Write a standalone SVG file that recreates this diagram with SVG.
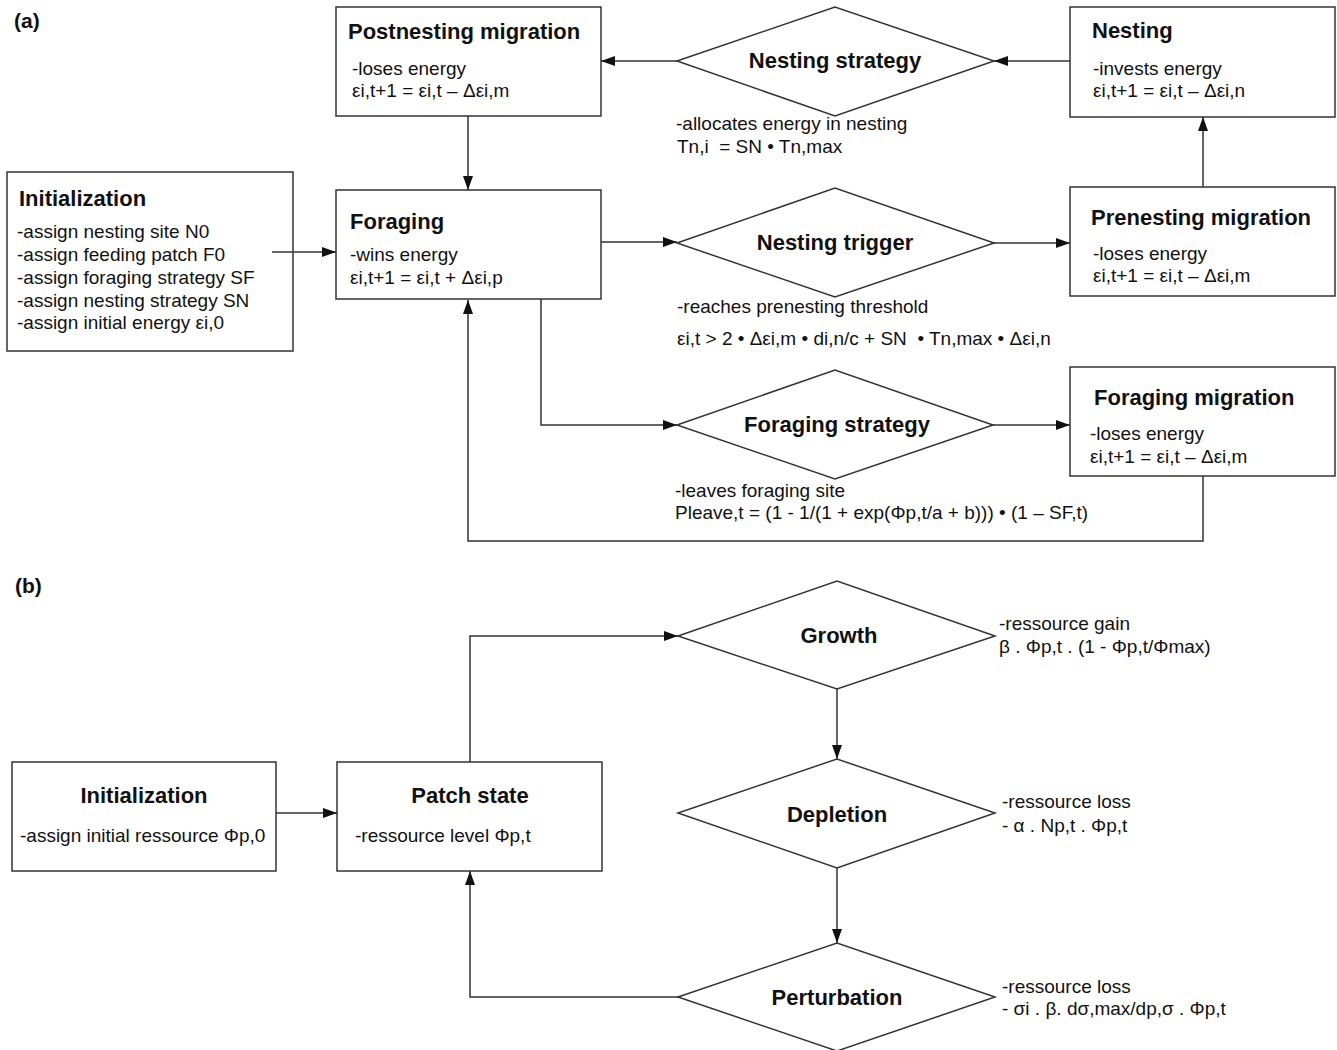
<svg xmlns="http://www.w3.org/2000/svg" width="1337" height="1050" viewBox="0 0 1337 1050">
<style>
.box{fill:#fff;stroke:#333;stroke-width:1.5}
.dia{fill:#fff;stroke:#333;stroke-width:1.5}
.t{font-family:"Liberation Sans",Arial,sans-serif;font-size:22px;font-weight:bold;fill:#111}
.b{font-family:"Liberation Sans",Arial,sans-serif;font-size:19px;fill:#111}
.m{text-anchor:middle}
.c{fill:none;stroke:#333;stroke-width:1.5}
</style>
<defs>
<marker id="ah" markerUnits="userSpaceOnUse" markerWidth="14" markerHeight="10" refX="14" refY="5" orient="auto">
<path d="M0,0 L14,5 L0,10 z" fill="#111"/>
</marker>
</defs>
<rect width="1337" height="1050" fill="#fff"/>
<text class="t" x="14" y="28" style="font-size:21px">(a)</text>
<text class="t" x="15" y="593" style="font-size:21px">(b)</text>

<g id="postnesting">
<rect class="box" x="336" y="7" width="265" height="109"/>
<text class="t" x="348" y="39">Postnesting migration</text>
<text class="b" x="352" y="75">-loses energy</text>
<text class="b" x="352" y="97">εi,t+1 = εi,t – Δεi,m</text>
</g>

<g id="nesting-strategy">
<polygon class="dia" points="677,61 835,7 994,61 835,116"/>
<text class="t m" x="835" y="68">Nesting strategy</text>
<text class="b" x="676" y="130">-allocates energy in nesting</text>
<text class="b" x="677" y="153" xml:space="preserve">Tn,i  = SN • Tn,max</text>
</g>

<g id="nesting">
<rect class="box" x="1070" y="7" width="265" height="110"/>
<text class="t" x="1092" y="38">Nesting</text>
<text class="b" x="1093" y="75">-invests energy</text>
<text class="b" x="1093" y="97">εi,t+1 = εi,t – Δεi,n</text>
</g>

<g id="initialization-a">
<rect class="box" x="7" y="172" width="286" height="179"/>
<text class="t" x="19" y="206">Initialization</text>
<text class="b" x="17" y="238">-assign nesting site N0</text>
<text class="b" x="17" y="261">-assign feeding patch F0</text>
<text class="b" x="17" y="284">-assign foraging strategy SF</text>
<text class="b" x="17" y="307">-assign nesting strategy SN</text>
<text class="b" x="17" y="329">-assign initial energy εi,0</text>
</g>

<g id="foraging">
<rect class="box" x="336" y="190" width="265" height="109"/>
<text class="t" x="350" y="229">Foraging</text>
<text class="b" x="350" y="261">-wins energy</text>
<text class="b" x="350" y="284">εi,t+1 = εi,t + Δεi,p</text>
</g>

<g id="nesting-trigger">
<polygon class="dia" points="677,243 835,188 994,243 835,297"/>
<text class="t m" x="835" y="250">Nesting trigger</text>
<text class="b" x="677" y="313">-reaches prenesting threshold</text>
<text class="b" x="677" y="345" xml:space="preserve">εi,t &gt; 2 • Δεi,m • di,n/c + SN  • Tn,max • Δεi,n</text>
</g>

<g id="prenesting">
<rect class="box" x="1070" y="187" width="265" height="109"/>
<text class="t" x="1091" y="225">Prenesting migration</text>
<text class="b" x="1093" y="260">-loses energy</text>
<text class="b" x="1093" y="282">εi,t+1 = εi,t – Δεi,m</text>
</g>

<g id="foraging-strategy">
<polygon class="dia" points="677,425 835,370 993,425 835,479"/>
<text class="t m" x="837" y="432">Foraging strategy</text>
<text class="b" x="675" y="497">-leaves foraging site</text>
<text class="b" x="675" y="519">Pleave,t = (1 - 1/(1 + exp(Φp,t/a + b))) • (1 – SF,t)</text>
</g>

<g id="foraging-migration">
<rect class="box" x="1070" y="367" width="265" height="109"/>
<text class="t" x="1094" y="405">Foraging migration</text>
<text class="b" x="1090" y="440">-loses energy</text>
<text class="b" x="1090" y="463">εi,t+1 = εi,t – Δεi,m</text>
</g>

<g id="initialization-b">
<rect class="box" x="12" y="762" width="264" height="109"/>
<text class="t m" x="144" y="803">Initialization</text>
<text class="b" x="20" y="842">-assign initial ressource Φp,0</text>
</g>

<g id="patch-state">
<rect class="box" x="337" y="762" width="265" height="109"/>
<text class="t m" x="470" y="803">Patch state</text>
<text class="b" x="355" y="842">-ressource level Φp,t</text>
</g>

<g id="growth">
<polygon class="dia" points="678,636 837,581 995,636 837,689"/>
<text class="t m" x="839" y="643">Growth</text>
<text class="b" x="999" y="630">-ressource gain</text>
<text class="b" x="999" y="653">β . Φp,t . (1 - Φp,t/Φmax)</text>
</g>

<g id="depletion">
<polygon class="dia" points="678,813 837,759 995,813 837,868"/>
<text class="t m" x="837" y="822">Depletion</text>
<text class="b" x="1002" y="808">-ressource loss</text>
<text class="b" x="1002" y="832">- α . Np,t . Φp,t</text>
</g>

<g id="perturbation">
<polygon class="dia" points="678,997 837,943 995,997 837,1051"/>
<text class="t m" x="837" y="1005">Perturbation</text>
<text class="b" x="1002" y="993">-ressource loss</text>
<text class="b" x="1002" y="1015">- σi . β. dσ,max/dp,σ . Φp,t</text>
</g>

<g id="connectors">
<path class="c" d="M272,252 H336" marker-end="url(#ah)"/>
<path class="c" d="M468,116 V190" marker-end="url(#ah)"/>
<path class="c" d="M1070,61 H994" marker-end="url(#ah)"/>
<path class="c" d="M677,61 H601" marker-end="url(#ah)"/>
<path class="c" d="M601,242 H677" marker-end="url(#ah)"/>
<path class="c" d="M994,243 H1070" marker-end="url(#ah)"/>
<path class="c" d="M1203,187 V117" marker-end="url(#ah)"/>
<path class="c" d="M541,299 V425 H677" marker-end="url(#ah)"/>
<path class="c" d="M993,425 H1070" marker-end="url(#ah)"/>
<path class="c" d="M1203,476 V541 H468 V300" marker-end="url(#ah)"/>
<path class="c" d="M276,813 H337" marker-end="url(#ah)"/>
<path class="c" d="M470,762 V636 H678" marker-end="url(#ah)"/>
<path class="c" d="M837,689 V759" marker-end="url(#ah)"/>
<path class="c" d="M837,868 V943" marker-end="url(#ah)"/>
<path class="c" d="M678,997 H470 V871" marker-end="url(#ah)"/>
</g>
</svg>
